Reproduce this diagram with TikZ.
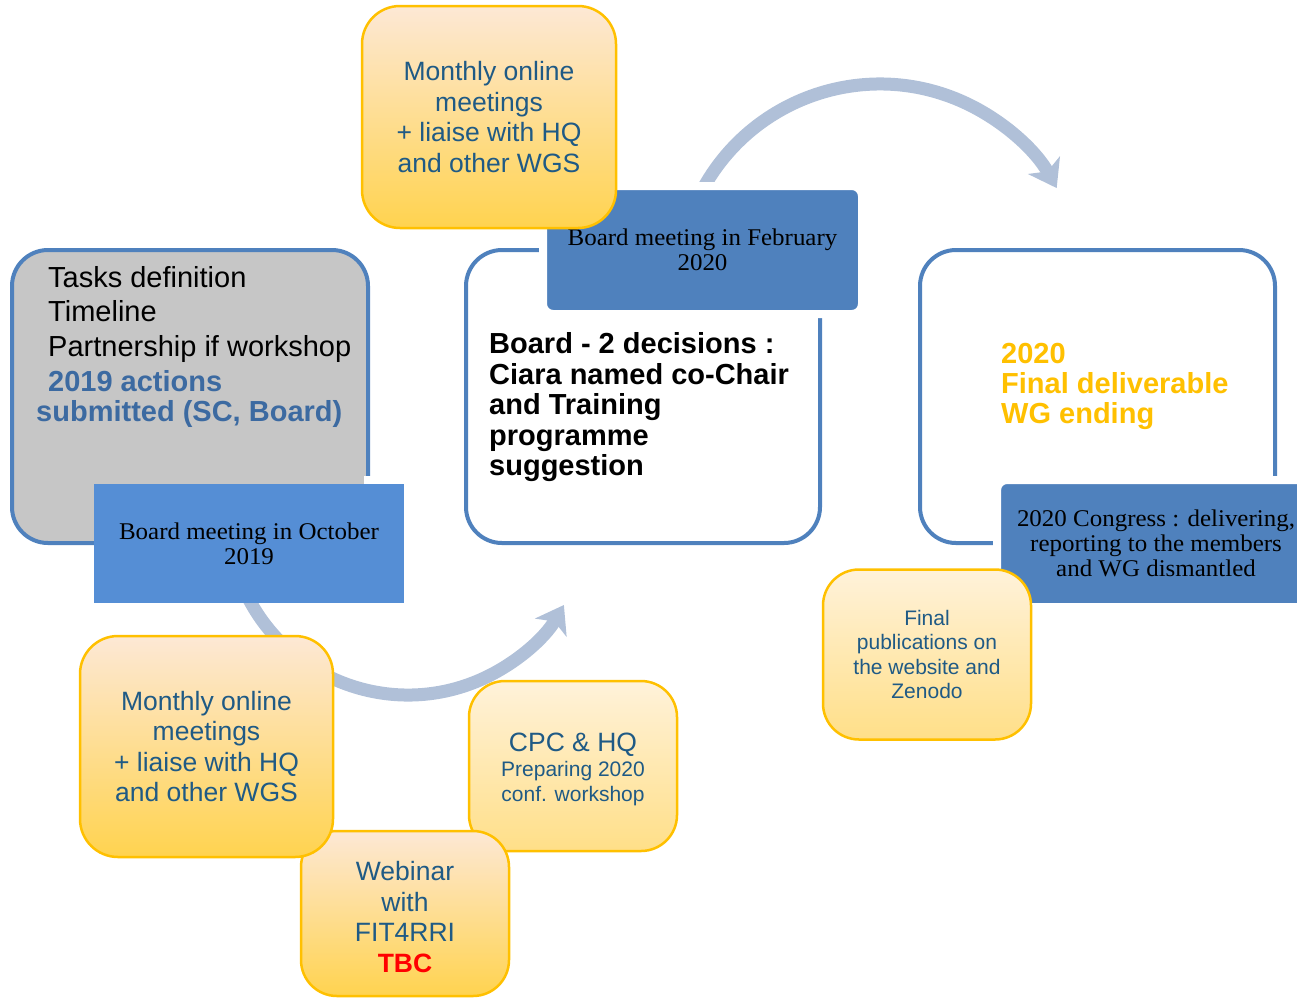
\documentclass[tikz,border=0pt]{standalone}
\usepackage{fontspec}
\setmainfont{Liberation Sans}
\newfontfamily\labelserif[FakeStretch=1.04]{Liberation Serif}
\usetikzlibrary{arrows.meta}
\definecolor{bordblue}{HTML}{4F81BD}
\definecolor{octblue}{HTML}{558ED5}
\definecolor{labblue}{HTML}{4F81BD}
\definecolor{boxgray}{HTML}{C6C6C6}
\definecolor{arcblue}{HTML}{B0C0D8}
\definecolor{txtblue}{HTML}{3C6AA1}
\definecolor{goldtxt}{HTML}{FFC000}
\definecolor{ytext}{HTML}{1F5A85}
\definecolor{ytop}{HTML}{FDE8D5}
\definecolor{ybot}{HTML}{FFD34F}
\definecolor{ltop}{HTML}{FFF2DA}
\definecolor{lbot}{HTML}{FFDF88}
\definecolor{yborder}{HTML}{FFC000}
\definecolor{tbcred}{HTML}{FF0000}
\tikzset{
  framebox/.style={draw=bordblue, line width=4pt, rounded corners=36pt, inner sep=0pt},
  labelbox/.style={draw=white, line width=8pt, inner sep=0pt, align=center, text=black,
    font=\labelserif\fontsize{24}{25}\selectfont},
  yellowbox/.style={draw=yborder, line width=2.5pt, rounded corners=38pt, top color=ytop,
    bottom color=ybot, align=center, text=ytext, inner sep=0pt,
    font=\fontsize{26.5}{30.5}\selectfont},
  paleyellow/.style={yellowbox, top color=ltop, bottom color=lbot},
  ytextnode/.style={align=center, text=ytext, inner sep=0pt},
  arcarrow/.style={draw=arcblue, line width=13pt, -{Stealth[length=26pt,width=36pt,inset=7pt]}},
  plaintext/.style={anchor=west, inner sep=0pt, align=left},
}
\begin{document}
\begin{tikzpicture}[x=1pt,y=-1pt]
\useasboundingbox (0,0) rectangle (1297,999);
\clip (0,0) rectangle (1297,999);

% arcs (behind everything)
\coordinate (topc) at (880,286);
\coordinate (botc) at (408,515);
\draw[arcarrow] (topc) ++(205:202) arc[start angle=205, end angle=331, radius=202];
\draw[arcarrow] (botc) ++(156:180) arc[start angle=156, end angle=30, radius=180];

% main frames
\node[framebox, fill=boxgray, minimum width=356pt, minimum height=293pt] (gray) at (190,396.5) {};
\node[framebox, fill=white, minimum width=354pt, minimum height=293pt] (mid) at (643,396.5) {};
\node[framebox, fill=white, minimum width=355pt, minimum height=293pt] (right) at (1097.5,396.5) {};

% texts in frames
\node[plaintext, font=\fontsize{29}{34.5}\selectfont] (tasks) at (48,314)
  {Tasks definition\\Timeline\\Partnership if workshop};
\node[plaintext, text=txtblue, font=\bfseries\fontsize{29}{30}\selectfont] (actions) at (36,398.5)
  {\hspace*{12pt}2019 actions\\submitted (SC, Board)};
\node[plaintext, font=\bfseries\fontsize{29}{30.5}\selectfont] (dec) at (489,407.5)
  {Board - 2 decisions :\\Ciara named co-Chair\\and Training\\programme\\suggestion};
\node[plaintext, text=goldtxt, font=\bfseries\fontsize{29}{30}\selectfont] (deliv) at (1001,386)
  {2020\\Final deliverable\\WG ending};

% label boxes
\fill[white] (364,476) rectangle (374,484);
\node[labelbox, draw=none, fill=octblue, minimum width=310pt, minimum height=119pt] (oct) at (249,543.5)
  {Board meeting in October\\2019};
\node[labelbox, fill=labblue, rounded corners=10pt, minimum width=319pt, minimum height=128pt] (feb) at (702.5,250)
  {Board meeting in February\\2020};
\node[labelbox, fill=labblue, rounded corners=10pt, minimum width=318pt, minimum height=127pt] (congress) at (1156,543.5)
  {2020 Congress : delivering,\\reporting to the members\\and WG dismantled};

% yellow boxes
\node[yellowbox, minimum width=254pt, minimum height=222pt] (monthlytop) at (489,117)
  {Monthly online\\meetings\\+ liaise with HQ\\and other WGS};
\node[paleyellow, rounded corners=36pt, minimum width=208pt, minimum height=170pt] (cpc) at (573,766) {};
\node[ytextnode, font=\fontsize{21}{25}\selectfont] (cpctext) at (573,769)
  {{\fontsize{26.5}{28}\selectfont CPC \& HQ}\\Preparing 2020\\conf. workshop};
\node[yellowbox, rounded corners=36pt, minimum width=208pt, minimum height=165pt] (webinar) at (405,913.5) {};
\node[ytextnode, font=\fontsize{26.5}{30.5}\selectfont] (webtext) at (405,917)
  {Webinar\\with\\FIT4RRI\\{\color{tbcred}\bfseries TBC}};
\node[yellowbox, minimum width=253pt, minimum height=221pt] (monthlybot) at (206.5,746.5)
  {Monthly online\\meetings\\+ liaise with HQ\\and other WGS};
\node[paleyellow, rounded corners=36pt, minimum width=208pt, minimum height=170pt,
  font=\fontsize{21}{24.5}\selectfont] (final) at (927,654.5)
  {Final\\publications on\\the website and\\Zenodo};
\end{tikzpicture}
\end{document}
